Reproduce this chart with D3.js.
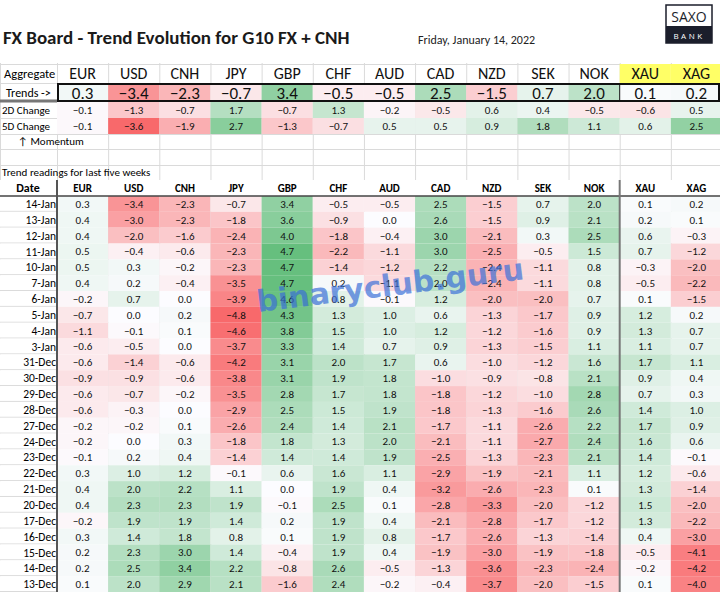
<!DOCTYPE html>
<html><head><meta charset="utf-8">
<script src="https://cdn.jsdelivr.net/npm/d3@7"></script>
<style>body{margin:0;background:#fff}</style>
</head><body><svg id="board" width="720" height="592"></svg>
<script>
const currencies = ["EUR","USD","CNH","JPY","GBP","CHF","AUD","CAD","NZD","SEK","NOK","XAU","XAG"];
const trends   = [0.3,-3.4,-2.3,-0.7,3.4,-0.5,-0.5,2.5,-1.5,0.7,2.0,0.1,0.2];
const change2d = [-0.1,-1.3,-0.7,1.7,-0.7,1.3,-0.2,-0.5,0.6,0.4,-0.5,-0.6,0.5];
const change5d = [-0.1,-3.6,-1.9,2.7,-1.3,-0.7,0.5,0.5,0.9,1.8,1.1,0.6,2.5];
const dates = ["14-Jan","13-Jan","12-Jan","11-Jan","10-Jan","7-Jan","6-Jan","5-Jan","4-Jan","3-Jan","31-Dec","30-Dec","29-Dec","28-Dec","27-Dec","24-Dec","23-Dec","22-Dec","21-Dec","20-Dec","17-Dec","16-Dec","15-Dec","14-Dec","13-Dec"];
const readings = [
  [0.3,-3.4,-2.3,-0.7,3.4,-0.5,-0.5,2.5,-1.5,0.7,2.0,0.1,0.2],
  [0.4,-3.0,-2.3,-1.8,3.6,-0.9,0.0,2.6,-1.5,0.9,2.1,0.2,0.1],
  [0.4,-2.0,-1.6,-2.4,4.0,-1.8,-0.4,3.0,-2.1,0.3,2.5,0.6,-0.3],
  [0.5,-0.4,-0.6,-2.3,4.7,-2.2,-1.1,3.0,-2.5,-0.5,1.5,0.7,-1.2],
  [0.5,0.3,-0.2,-2.3,4.7,-1.4,-1.2,2.2,-2.4,-1.1,0.8,-0.3,-2.0],
  [0.4,0.2,-0.4,-3.5,4.7,0.2,-1.1,2.0,-2.4,-1.1,0.8,-0.5,-2.2],
  [-0.2,0.7,0.0,-3.9,4.6,0.8,-0.1,1.2,-2.0,-2.0,0.7,0.1,-1.5],
  [-0.7,0.0,0.2,-4.8,4.3,1.3,1.0,0.6,-1.3,-1.7,0.9,1.2,0.2],
  [-1.1,-0.1,0.1,-4.6,3.8,1.5,1.0,1.2,-1.2,-1.6,0.9,1.3,0.7],
  [-0.6,-0.5,0.0,-3.7,3.3,1.4,0.7,0.9,-1.3,-1.5,1.1,1.1,0.7],
  [-0.6,-1.4,-0.6,-4.2,3.1,2.0,1.7,0.6,-1.0,-1.2,1.6,1.7,1.1],
  [-0.9,-0.9,-0.6,-3.8,3.1,1.9,1.8,-1.0,-0.9,-0.8,2.1,0.9,0.4],
  [-0.6,-0.7,-0.2,-3.5,2.8,1.7,1.8,-1.8,-1.2,-1.0,2.8,0.7,0.3],
  [-0.6,-0.3,0.0,-2.9,2.5,1.5,1.9,-1.8,-1.3,-1.6,2.6,1.4,1.0],
  [-0.2,-0.2,0.1,-2.6,2.4,1.4,2.1,-1.7,-1.1,-2.6,2.2,1.7,0.9],
  [-0.2,0.0,0.3,-1.8,1.8,1.3,2.0,-2.1,-1.1,-2.7,2.4,1.6,0.6],
  [-0.1,0.2,0.4,-1.4,1.4,1.4,1.9,-2.5,-1.3,-2.3,2.1,1.4,-0.1],
  [0.3,1.0,1.2,-0.1,0.6,1.6,1.1,-2.9,-1.9,-2.1,1.1,1.2,-0.6],
  [0.4,2.0,2.2,1.1,0.0,1.9,0.4,-3.2,-2.6,-2.3,0.1,1.3,-1.4],
  [0.4,2.3,2.3,1.9,-0.1,2.5,0.1,-2.8,-3.3,-2.0,-1.2,1.5,-2.0],
  [-0.2,1.9,1.9,1.4,0.2,1.9,0.4,-2.1,-2.8,-1.7,-1.2,1.3,-2.2],
  [0.3,1.4,1.8,0.8,0.1,1.9,0.8,-1.7,-2.6,-1.3,-1.4,0.4,-3.0],
  [0.2,2.3,3.0,1.4,-0.4,1.9,0.4,-1.9,-3.0,-1.9,-1.8,-0.5,-4.1],
  [0.2,2.5,3.4,2.2,-0.8,2.6,-0.5,-1.3,-3.6,-2.3,-2.4,-0.2,-4.2],
  [0.1,2.0,2.9,2.1,-1.6,2.4,-0.2,-0.4,-3.7,-2.0,-1.5,0.1,-4.0]
];

const font = "Carlito, 'Liberation Sans Narrow', 'Open Sans', sans-serif";
const svg = d3.select("#board").style("font-family", font);
const W = 720, left = 57;

const x = d3.scaleBand().domain(currencies).range([left, W + 2]);
const cx = c => x(c) + x.bandwidth() / 2;

const heat = d3.scaleLinear().domain([-4.8, 0, 4.8]).range(["#f8696b", "#fcfcff", "#63be7b"]).clamp(true);
const heatSmall = d3.scaleLinear().domain([-3.6, 0, 3.6]).range(["#f8696b", "#fcfcff", "#63be7b"]).clamp(true);

// spreadsheet gridlines
const grid = svg.append("g").attr("stroke", "#dadada").attr("stroke-width", 1);
[0].concat(currencies.map(c => x(c))).forEach(v =>
  grid.append("line").attr("x1", v + 0.5).attr("x2", v + 0.5).attr("y1", 0).attr("y2", 592));
[64, 83, 101, 118, 134, 149, 165, 180].forEach(v =>
  grid.append("line").attr("x1", 0).attr("x2", W).attr("y1", v + 0.5).attr("y2", v + 0.5));

// title
svg.append("rect").attr("x", 0).attr("y", 0).attr("width", W).attr("height", 63).attr("fill", "#fff");
svg.append("text").attr("x", 3).attr("y", 44).attr("font-size", 19).attr("font-weight", 700)
  .attr("fill", "#1a1a1a").text("FX Board - Trend Evolution for G10 FX + CNH");
svg.append("text").attr("x", 418).attr("y", 44).attr("font-size", 12).attr("fill", "#222")
  .text("Friday, January 14, 2022");
// logo
const logo = svg.append("g").attr("transform", "translate(666,5)");
logo.append("rect").attr("width", 46).attr("height", 38).attr("fill", "#fff").attr("stroke", "#1b1e2b").attr("stroke-width", 1.5);
logo.append("rect").attr("y", 21).attr("width", 46).attr("height", 17).attr("fill", "#1b1e2b");
logo.append("text").attr("x", 23).attr("y", 17).attr("text-anchor", "middle").attr("font-size", 14).attr("font-family", "'Open Sans', sans-serif").attr("fill", "#1b1e2b").text("SAXO");
logo.append("text").attr("x", 23).attr("y", 34).attr("text-anchor", "middle").attr("font-size", 8).attr("letter-spacing", 2.5).attr("font-family", "'Open Sans', sans-serif").attr("fill", "#fff").text("BANK");

// aggregate header
svg.selectAll("rect.hdr").data(["XAU", "XAG"]).join("rect")
  .attr("x", d => x(d)).attr("y", 64).attr("width", x.bandwidth()).attr("height", 19).attr("fill", "#ffff66");
svg.append("text").attr("x", 4).attr("y", 78).attr("font-size", 12.5).text("Aggregate");
svg.selectAll("text.agg").data(currencies).join("text")
  .attr("x", cx).attr("y", 79).attr("text-anchor", "middle").attr("font-size", 16).attr("fill", "#111").text(d => d);

// colored rows
function valueRow(vals, y0, h, scale, size) {
  const g = svg.append("g");
  g.selectAll("rect").data(vals).join("rect")
    .attr("x", (d, i) => x(currencies[i])).attr("y", y0).attr("width", x.bandwidth()).attr("height", h)
    .attr("fill", d => scale(d));
  g.selectAll("text").data(vals).join("text")
    .attr("x", (d, i) => cx(currencies[i])).attr("y", y0 + h / 2).attr("dy", "0.36em")
    .attr("text-anchor", "middle").attr("font-size", size).attr("fill", "#111").text(d => d3.format(".1f")(d));
}
valueRow(trends, 84, 17, heat, 17);
valueRow(change2d, 102, 16, heatSmall, 11);
valueRow(change5d, 118, 16, heatSmall, 11);
svg.append("rect").attr("x", left + 1).attr("y", 84).attr("width", W - left - 2).attr("height", 17)
  .attr("fill", "none").attr("stroke", "#111").attr("stroke-width", 2);
svg.append("line").attr("x1", x("XAU")).attr("x2", x("XAU")).attr("y1", 84).attr("y2", 101).attr("stroke", "#111").attr("stroke-width", 1);
svg.append("line").attr("x1", 0).attr("x2", left).attr("y1", 101).attr("y2", 101).attr("stroke", "#777").attr("stroke-width", 3);
svg.append("text").attr("x", 6).attr("y", 97).attr("font-size", 12).text("Trends ->");
svg.append("text").attr("x", 2).attr("y", 114).attr("font-size", 11).text("2D Change");
svg.append("text").attr("x", 2).attr("y", 130).attr("font-size", 11).text("5D Change");
svg.append("text").attr("x", 18).attr("y", 145).attr("font-size", 11).text("\u2191 Momentum");
svg.append("text").attr("x", 2).attr("y", 176).attr("font-size", 11).text("Trend readings for last five weeks");

// bottom table
const y = d3.scaleBand().domain(dates).range([196, 592]);
svg.append("rect").attr("x", 0).attr("y", 180).attr("width", W).attr("height", 16).attr("fill", "#fff");
svg.append("text").attr("x", 28).attr("y", 192).attr("text-anchor", "middle").attr("font-size", 12).attr("font-weight", 700).text("Date");
svg.selectAll("text.ch").data(currencies).join("text")
  .attr("x", cx).attr("y", 192).attr("text-anchor", "middle").attr("font-size", 11).attr("font-weight", 700).text(d => d);

const rows = svg.append("g").selectAll("g").data(readings).join("g")
  .attr("transform", (d, i) => `translate(0,${y(dates[i])})`);
rows.append("rect").attr("x", 0).attr("width", left).attr("height", y.bandwidth()).attr("fill", "#fff");
rows.append("line").attr("x1", 0).attr("x2", left).attr("y1", y.bandwidth() - 0.5).attr("y2", y.bandwidth() - 0.5).attr("stroke", "#dadada");
rows.append("text").attr("x", 56).attr("y", y.bandwidth() / 2).attr("dy", "0.36em").attr("text-anchor", "end")
  .attr("font-size", 11.5).text((d, i) => dates[i]);
rows.selectAll("rect.cell").data(d => d).join("rect").attr("class", "cell")
  .attr("x", (d, i) => x(currencies[i])).attr("width", x.bandwidth()).attr("height", y.bandwidth())
  .attr("fill", d => heat(d));
rows.selectAll("text.v").data(d => d).join("text").attr("class", "v")
  .attr("x", (d, i) => cx(currencies[i])).attr("y", y.bandwidth() / 2).attr("dy", "0.36em")
  .attr("text-anchor", "middle").attr("font-size", 11).attr("fill", "#111").text(d => d3.format(".1f")(d));

svg.append("line").attr("x1", 0).attr("x2", W).attr("y1", 196).attr("y2", 196).attr("stroke", "#444").attr("stroke-width", 1.5);
svg.append("line").attr("x1", left).attr("x2", left).attr("y1", 180).attr("y2", 592).attr("stroke", "#555").attr("stroke-width", 2);
svg.append("line").attr("x1", x("XAU")).attr("x2", x("XAU")).attr("y1", 180).attr("y2", 592).attr("stroke", "#777").attr("stroke-width", 2);

// watermark
svg.append("text").attr("transform", "translate(258,312) rotate(-7)")
  .attr("font-size", 30).attr("font-weight", 700).attr("font-family", "'DejaVu Sans', sans-serif")
  .attr("fill", "#3a6fd8").attr("fill-opacity", 0.7).text("binaryclub.guru");
</script></body></html>
